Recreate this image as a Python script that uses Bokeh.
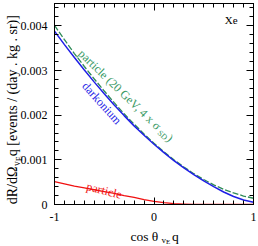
import math
from bokeh.plotting import figure
from bokeh.models import FixedTicker, CustomJSTickFormatter, LinearAxis, Label, Range1d
from bokeh.core.properties import value
from bokeh.embed import file_html
from bokeh.resources import INLINE

# ---- data ----
cos_theta = [-1.0, -0.9, -0.8, -0.7, -0.6, -0.5, -0.4, -0.3, -0.2, -0.1, 0.0,
             0.1, 0.2, 0.3, 0.4, 0.5, 0.6, 0.7, 0.8, 0.9, 1.0]
darkonium = [0.00388, 0.00358, 0.00329, 0.00301, 0.00274, 0.00248, 0.00223, 0.00199,
             0.00176, 0.00155, 0.00135, 0.00116, 0.00098, 0.00082, 0.00067, 0.00053,
             0.00040, 0.00028, 0.00018, 0.00010, 0.00005]
particle_20gev = [0.00401, 0.00369, 0.00338, 0.00309, 0.00281, 0.00254, 0.00228, 0.00203,
                  0.00180, 0.00158, 0.00137, 0.00118, 0.00100, 0.00084, 0.00069, 0.00056,
                  0.00044, 0.00034, 0.00026, 0.00019, 0.00014]
particle = [0.00051, 0.00046, 0.00041, 0.00037, 0.00033, 0.00029, 0.00025, 0.00020,
            0.00016, 0.00011, 0.00007, 0.00004, 0.00002, 0.00001, 0.0, 0.0,
            0.0, 0.0, 0.0, 0.0, 0.0]
x_ticks = [-1, 0, 1]
y_ticks = [0, 0.001, 0.002, 0.003, 0.004]

FONT = "Liberation Serif"
BLUE = "#1f1fe6"
RED = "#f01010"
GREEN = "#2e8b57"
GREEN_T = "#3a9a66"

p = figure(width=258, height=246, x_range=Range1d(-1, 1), y_range=Range1d(0, 0.0045),
           output_backend="svg", toolbar_location=None,
           min_border_left=54, min_border_right=5, min_border_top=3, min_border_bottom=42)
p.grid.visible = False
p.outline_line_color = "black"
p.background_fill_color = "white"
p.border_fill_color = "white"

x_minor = [round(-1 + 0.1 * i, 2) for i in range(21)]
y_minor = [round(0.0002 * i, 5) for i in range(23)]

def style_axis(ax, labels=True):
    ax.major_tick_in = 7
    ax.major_tick_out = 0
    ax.minor_tick_in = 4
    ax.minor_tick_out = 0
    ax.axis_line_color = "black"
    ax.major_tick_line_color = "black"
    ax.minor_tick_line_color = "black"
    ax.major_label_text_font = FONT
    ax.major_label_text_color = "black"
    if labels:
        ax.major_label_text_font_size = "12px"
    else:
        ax.major_label_text_font_size = "1px"
        ax.major_label_standoff = 0
        ax.formatter = CustomJSTickFormatter(code="return '';")

xb = p.xaxis[0]
xb.ticker = FixedTicker(ticks=x_ticks, minor_ticks=x_minor)
xb.formatter = CustomJSTickFormatter(code="return tick.toFixed(0);")
style_axis(xb)
xb.major_label_standoff = 8

yl = p.yaxis[0]
yl.ticker = FixedTicker(ticks=y_ticks, minor_ticks=y_minor)
yl.formatter = CustomJSTickFormatter(code="return tick == 0 ? '0' : tick.toFixed(3);")
style_axis(yl)
yl.major_label_standoff = 7

xt = LinearAxis(ticker=FixedTicker(ticks=x_ticks, minor_ticks=x_minor))
style_axis(xt, labels=False)
p.add_layout(xt, "above")
yr = LinearAxis(ticker=FixedTicker(ticks=y_ticks, minor_ticks=y_minor))
style_axis(yr, labels=False)
p.add_layout(yr, "right")

# ---- curves ----
p.line(cos_theta, particle_20gev, line_color=GREEN, line_width=1.3, line_dash="6 2")
p.line(cos_theta, darkonium, line_color=BLUE, line_width=1.5)
p.line(cos_theta, particle, line_color=RED, line_width=1.3)

def lab(text, x, y, size, color="black", angle=0.0, xo=0.0, yo=0.0, align="left"):
    p.add_layout(Label(x=x, y=y, text=text,
                       text_font=FONT, text_font_size=f"{size}px", text_color=color,
                       angle=angle, x_offset=xo, y_offset=yo, text_align=align,
                       text_baseline="alphabetic"))

# green label along dashed line
th = math.radians(-44)
d = (math.cos(th), math.sin(th))
dn = (math.sin(th), -math.cos(th))
gx, gy = -0.74, 0.00342
lab("particle (20 GeV, 4 x σ", gx, gy, 12, GREEN_T, th)
w1 = 112.0
lab("SD", gx, gy, 8, GREEN_T, th, xo=w1 * d[0] + 3 * dn[0], yo=w1 * d[1] + 3 * dn[1])
w2 = w1 + 10.7
lab(")", gx, gy, 12, GREEN_T, th, xo=w2 * d[0], yo=w2 * d[1])

# darkonium label
lab("darkonium", -0.70, 0.00270, 12, BLUE, math.radians(-48))
# particle label
lab("particle", -0.675, 0.00041, 12, RED, math.radians(-14))
# Xe
lab("Xe", 0.84, 0.00413, 11, "black", align="right")

# ---- axis titles: text glyphs anchored at the frame's lower-left corner,
#      shifted by pixel offsets (right, up), drawn at overlay level ----
x0, y0 = x_ticks[0], y_ticks[0]

def title_piece(text, right, up, size, angle=0.0, align="left", baseline="alphabetic"):
    p.text(x=[x0], y=[y0], text=[text], x_offset=right, y_offset=-up,
           angle=angle, text_font=value(FONT), text_font_size=f"{size}px",
           text_color="black", text_align=align, text_baseline=baseline,
           level="overlay")

# y title: rotated pieces, centred on their own middle points
a = math.pi / 2
title_piece("dR/dΩ", -42.2, 19.0, 14, a, "center", "middle")
title_piece("v", -37.8, 40.9, 9.5, a, "center", "middle")
title_piece("E", -34.7, 45.8, 7.5, a, "center", "middle")
title_piece(" q [events / (day . kg . sr)]", -42.2, 120.6, 14, a, "center", "middle")

title_piece("cos θ", 76, -32, 13.5)
title_piece("v", 107, -35, 9)
title_piece("E", 111.5, -37.5, 7)
title_piece("q", 117.5, -32, 13.5)

open("out.html", "w").write(file_html(p, INLINE))
